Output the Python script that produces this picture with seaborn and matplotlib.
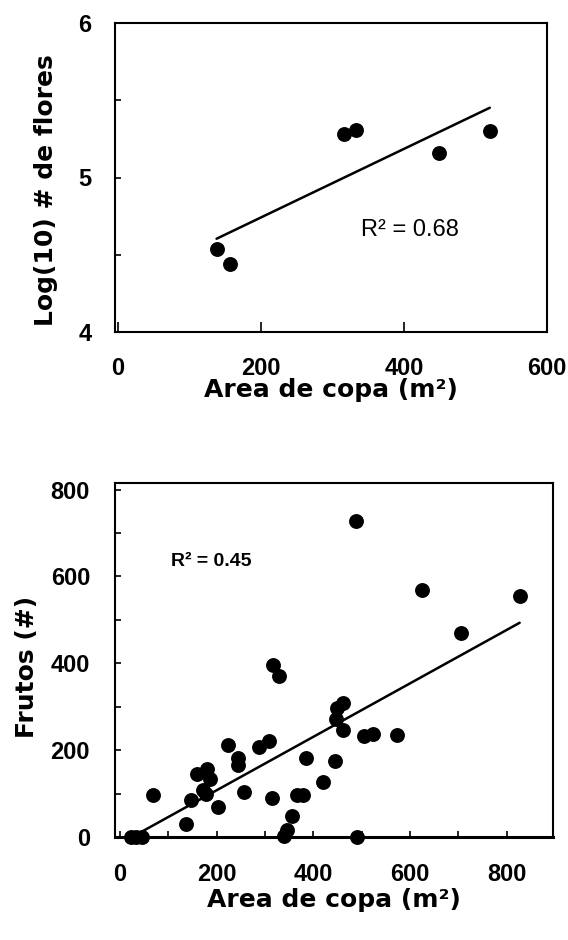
import numpy as np
import pandas as pd
import matplotlib
matplotlib.use("Agg")
import matplotlib.pyplot as plt
import seaborn as sns
from matplotlib.ticker import MultipleLocator

# ---- data ----
area_flores = [138, 157, 316, 333, 449, 520]
log_flores = [4.54, 4.44, 5.28, 5.31, 5.16, 5.30]
r2_flores = "R² = 0.68"

area_frutos = [488, 625, 827, 705, 317, 329, 462, 449, 447, 462, 505, 523, 574,
               308, 287, 223, 245, 245, 386, 446, 181, 160, 186, 171, 179, 421,
               68, 257, 367, 378, 314, 147, 203, 357, 137, 345, 340, 491, 24, 34, 45]
frutos = [727, 569, 554, 470, 395, 371, 309, 298, 272, 246, 233, 236, 234,
          221, 207, 211, 183, 165, 183, 174, 156, 146, 134, 109, 98, 127,
          96, 104, 96, 96, 90, 86, 69, 48, 31, 17, 2, 0, 0, 0, 0]
r2_frutos = "R² = 0.45"

xlabel = "Area de copa (m²)"
ylabel_top = "Log(10) # de flores"
ylabel_bot = "Frutos (#)"

top_xticks = [0, 200, 400, 600]
top_yticks = [4, 5, 6]
bot_xticks = [0, 200, 400, 600, 800]
bot_yticks = [0, 200, 400, 600, 800]

df1 = pd.DataFrame({"area": area_flores, "val": log_flores})
df2 = pd.DataFrame({"area": area_frutos, "val": frutos})

sns.set_theme(style="white")
plt.rcParams["font.family"] = ["Liberation Sans", "DejaVu Sans"]

W, H = 568, 940
fig = plt.figure(figsize=(W / 100, H / 100), dpi=100)


def px_axes(l, t, r, b):
    return fig.add_axes([l / W, 1 - b / H, (r - l) / W, (b - t) / H])


ax1 = px_axes(115, 23, 547, 332)
ax2 = px_axes(115, 483, 553, 837)

sc_kws = dict(s=115, linewidths=0, clip_on=False, alpha=1, zorder=3)
ln_kws = dict(lw=1.8, color="black")

sns.regplot(data=df1, x="area", y="val", ax=ax1, ci=None, color="black",
            scatter_kws=sc_kws, line_kws=ln_kws)
sns.regplot(data=df2, x="area", y="val", ax=ax2, ci=None, color="black",
            scatter_kws=sc_kws, line_kws=ln_kws)

# limits & ticks
ax1.set_xlim(-4, 600)
ax1.set_ylim(4, 6)
ax1.set_xticks(top_xticks)
ax1.set_yticks(top_yticks)
ax1.yaxis.set_minor_locator(MultipleLocator(0.5))

ax2.set_xlim(-10, 896)
ax2.set_ylim(0, 815)
ax2.set_xticks(bot_xticks)
ax2.set_yticks(bot_yticks)
ax2.xaxis.set_minor_locator(MultipleLocator(100))
ax2.yaxis.set_minor_locator(MultipleLocator(100))

for ax in (ax1, ax2):
    for sp in ax.spines.values():
        sp.set_visible(True)
        sp.set_color("black")
        sp.set_linewidth(1.5)
    ax.tick_params(which="both", direction="in", color="black", width=1.2,
                   labelsize=17, labelcolor="black", bottom=True, left=True,
                   top=False, right=False)
    ax.set_xlabel("")
    ax.set_ylabel("")

ax2.spines["bottom"].set_linewidth(2.2)

ax1.tick_params(axis="x", which="major", length=7, pad=18)
ax1.tick_params(axis="y", which="both", length=4, pad=17)
ax2.tick_params(axis="x", which="both", length=4, pad=19)
ax2.tick_params(axis="y", which="both", length=4, pad=18)

for ax in (ax1, ax2):
    for lbl in ax.get_xticklabels() + ax.get_yticklabels():
        lbl.set_fontweight("bold")

lab_kw = dict(fontfamily="DejaVu Sans", fontweight="bold", fontsize=18, color="black")
ax1.set_xlabel(xlabel, **lab_kw)
ax1.set_ylabel(ylabel_top, **lab_kw)
ax2.set_xlabel(xlabel, **lab_kw)
ax2.set_ylabel(ylabel_bot, **lab_kw)

ax1.xaxis.set_label_coords(0.5, -0.149)
ax1.yaxis.set_label_coords(-0.133, 0.46)
ax2.xaxis.set_label_coords(0.5, -0.144)
ax2.yaxis.set_label_coords(-0.174, 0.48)

ax1.text(408, 4.66, r2_flores, ha="center", va="center", fontsize=17, color="black")
ax2.text(190, 635, r2_frutos, ha="center", va="center", fontsize=14,
         fontweight="bold", color="black")

fig.savefig("out.png", dpi=100, facecolor="white")
